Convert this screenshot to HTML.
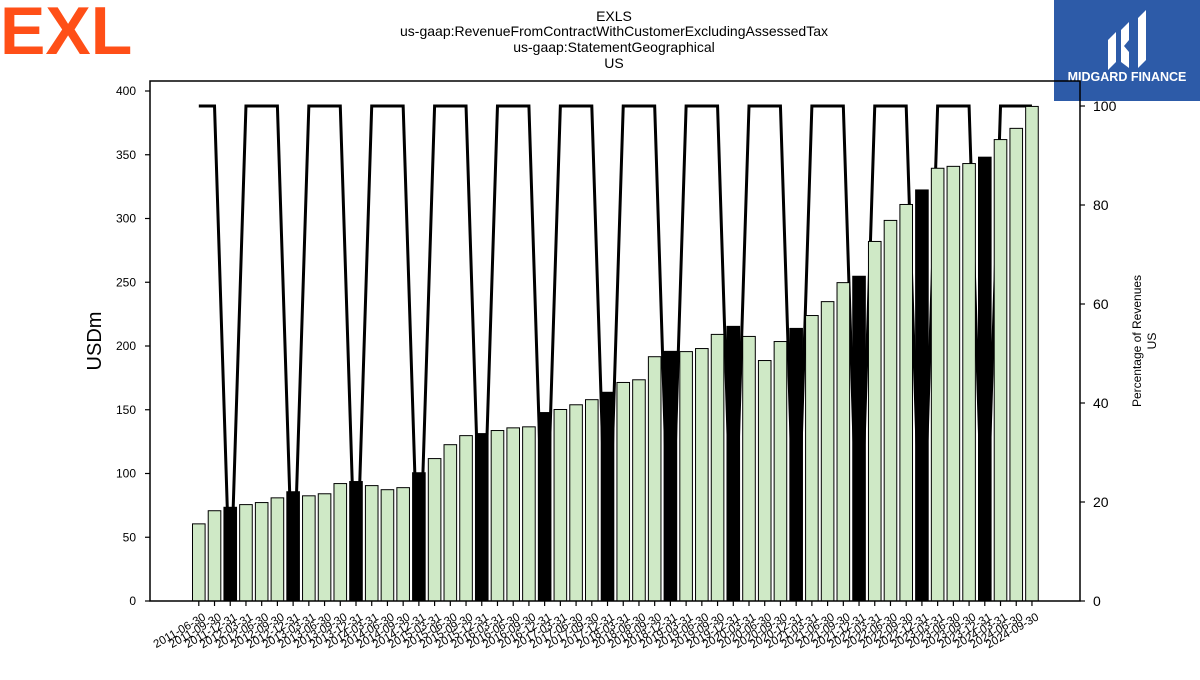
<!DOCTYPE html>
<html><head><meta charset="utf-8"><style>
body{margin:0;width:1200px;height:675px;background:#fff;overflow:hidden;font-family:"Liberation Sans",sans-serif}
</style></head><body>
<svg width="1200" height="675" xmlns="http://www.w3.org/2000/svg" font-family="Liberation Sans, sans-serif">
<text x="0" y="54" font-size="68" font-weight="bold" fill="#ff4f17">EXL</text>
<g>
<rect x="1054" y="0" width="146" height="101" fill="#2d5ba8"/>
<path d="M1108 70 L1108 40 L1116 32 L1116 62 Z M1121 62 L1121 30 L1129 22 L1129 40 L1124 46 L1129 52 L1129 68 Z M1138 68 L1138 18 L1146 10 L1146 60 Z" fill="#fff"/>
<text x="1127" y="81" font-size="12.5" font-weight="bold" fill="#fff" text-anchor="middle">MIDGARD FINANCE</text>
</g>
<g font-size="14" text-anchor="middle" fill="#000">
<text x="614" y="21">EXLS</text>
<text x="614" y="36">us-gaap:RevenueFromContractWithCustomerExcludingAssessedTax</text>
<text x="614" y="52">us-gaap:StatementGeographical</text>
<text x="614" y="68">US</text>
</g>
<g id="plot"></g>
<rect x="150" y="81" width="930" height="520" fill="none" stroke="#000" stroke-width="1.5"/>
<text transform="translate(101,341) rotate(-90)" font-size="20" text-anchor="middle">USDm</text>
<text transform="translate(1141,341) rotate(-90)" font-size="12" text-anchor="middle">Percentage of Revenues</text>
<text transform="translate(1156,341) rotate(-90)" font-size="12" text-anchor="middle">US</text>
</svg>
<script>
const categories=["2011-06-30","2011-09-30","2011-12-31","2012-03-31","2012-06-30","2012-09-30","2012-12-31","2013-03-31","2013-06-30","2013-09-30","2013-12-31","2014-03-31","2014-06-30","2014-09-30","2014-12-31","2015-03-31","2015-06-30","2015-09-30","2015-12-31","2016-03-31","2016-06-30","2016-09-30","2016-12-31","2017-03-31","2017-06-30","2017-09-30","2017-12-31","2018-03-31","2018-06-30","2018-09-30","2018-12-31","2019-03-31","2019-06-30","2019-09-30","2019-12-31","2020-03-31","2020-06-30","2020-09-30","2020-12-31","2021-03-31","2021-06-30","2021-09-30","2021-12-31","2022-03-31","2022-06-30","2022-09-30","2022-12-31","2023-03-31","2023-06-30","2023-09-30","2023-12-31","2024-03-31","2024-06-30","2024-09-30"];
const revenue=[60.5,70.8,73.5,75.6,77.2,80.9,85.7,82.5,84.1,92.1,93.7,90.5,87.3,88.9,100.6,111.7,122.6,129.7,131.3,133.7,135.8,136.6,147.8,150.2,153.9,157.9,163.7,171.4,173.5,191.6,195.8,195.6,198.0,209.1,215.4,207.5,188.6,203.5,213.8,223.9,234.8,249.7,254.7,282.0,298.5,311.0,322.4,339.4,340.9,343.1,348.1,361.9,370.7,387.9];
const percent=[100,100,0,100,100,100,0,100,100,100,0,100,100,100,0,100,100,100,0,100,100,100,0,100,100,100,0,100,100,100,0,100,100,100,0,100,100,100,0,100,100,100,0,100,100,100,0,100,100,100,0,100,100,100];
const leftTicks=[0,50,100,150,200,250,300,350,400];
const rightTicks=[0,20,40,60,80,100];
const NS="http://www.w3.org/2000/svg";
const g=document.getElementById('plot');
const x=i=>198.8+i*15.72;
const yL=v=>601-v*1.275;
const yR=v=>601-v*4.95;
function mk(t,a){const e=document.createElementNS(NS,t);for(const k in a)e.setAttribute(k,a[k]);g.appendChild(e);return e;}
// line behind bars
const ln=mk('polyline',{points:percent.map((p,i)=>x(i)+','+yR(p)).join(' '),fill:'none',stroke:'#000','stroke-width':3});


revenue.forEach((v,i)=>{
  const q4=categories[i].endsWith('12-31');
  const r=mk('rect',{x:x(i)-6.3,y:yL(v),width:12.6,height:v*1.275,fill:q4?'#000':'#cfe9c6',stroke:'#000','stroke-width':1});
  
  
  const tk=mk('line',{x1:x(i),x2:x(i),y1:601,y2:606,stroke:'#000','stroke-width':1.2});
  
  
  const t=mk('text',{transform:`translate(${x(i)+4},${613}) rotate(-30)`,'font-size':11.5,'text-anchor':'end','dominant-baseline':'hanging'});
  t.textContent=categories[i];
  
  
});
leftTicks.forEach(v=>{
  const l=mk('line',{x1:145,x2:150,y1:yL(v),y2:yL(v),stroke:'#000','stroke-width':1.2});
  
  
  const t=mk('text',{x:136,y:yL(v)+4,'font-size':12,'text-anchor':'end'});
  t.textContent=v;
  
  
});
rightTicks.forEach(v=>{
  const l=mk('line',{x1:1080,x2:1085,y1:yR(v),y2:yR(v),stroke:'#000','stroke-width':1.2});
  
  
  const t=mk('text',{x:1093,y:yR(v)+5,'font-size':14});
  t.textContent=v;
  
  
});
</script>
</body></html>
